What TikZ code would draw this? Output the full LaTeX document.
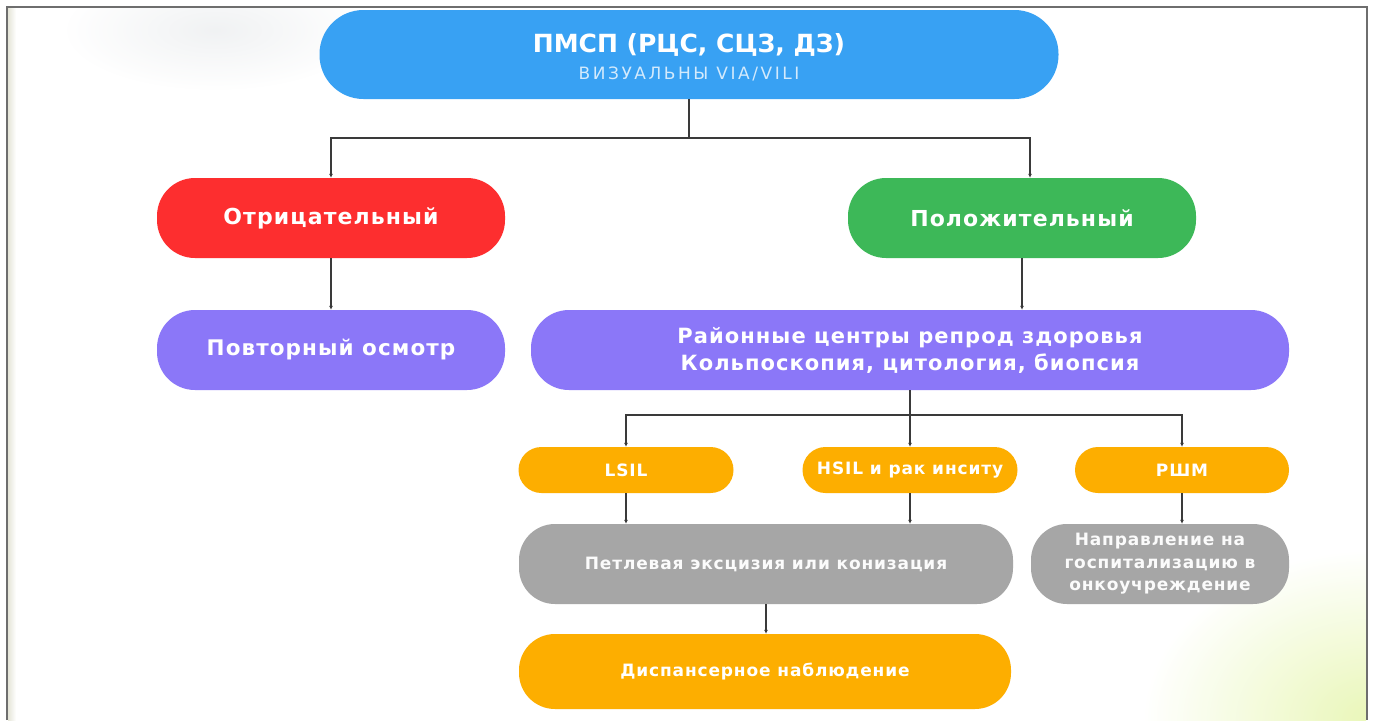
\documentclass[tikz,border=0pt]{standalone}
\usepackage{fontspec}
\setmainfont{DejaVu Sans}
\newfontfamily\widefont{DejaVu Sans}[LetterSpace=5]
\newfontfamily\subfont{DejaVu Sans}[LetterSpace=15]
\usetikzlibrary{arrows.meta}
\definecolor{cblue}{HTML}{38A1F3}
\definecolor{cred}{HTML}{FD2E2F}
\definecolor{cgreen}{HTML}{3DB858}
\definecolor{cpurple}{HTML}{8B77F8}
\definecolor{corange}{HTML}{FDAE00}
\definecolor{cgray}{HTML}{A6A6A6}
\definecolor{cline}{HTML}{3A3A3A}
\definecolor{cframe}{HTML}{6E6E6E}
\tikzset{
  pill/.style={rectangle, rounded corners=#1, inner sep=0pt, align=center, text=white},
  conn/.style={draw=cline, line width=1.5pt, -{Latex[length=4pt,width=4pt]}},
  plain/.style={draw=cline, line width=1.5pt},
}
\begin{document}
\begin{tikzpicture}[x=1pt,y=-1pt]
\useasboundingbox (0,0) rectangle (1373,720);
\fill[white] (0,0) rectangle (1373,720);
% soft background blobs
\begin{scope}
\clip (8,8) rectangle (1366,720);
\shade[inner color=cblue!15!gray!35, outer color=white, opacity=0.3] (215,30) ellipse (150 and 60);
\shade[inner color=cgreen!35!yellow!35!white, outer color=white, opacity=0.9] (1373,720) ellipse (230 and 170);
\shade[left color=yellow!20!gray!25, right color=white] (8,8) rectangle (16,720);
\end{scope}
% frame
\draw[cframe, line width=2pt] (7,720) -- (7,7) -- (1367,7) -- (1367,720);

% nodes
\node[pill=44pt, fill=cblue, minimum width=739pt, minimum height=89pt] (top) at (689,54.5) {};
\node[font=\bfseries\fontsize{25}{30}\selectfont, text=white] (t1) at (689,45) {ПМСП (РЦС, СЦЗ, ДЗ)};
\node[font=\subfont\fontsize{17}{20}\selectfont, text=white!78!cblue] (t2) at (689,74) {ВИЗУАЛЬНЫ VIA/VILI};

\node[pill=38pt, fill=cred, minimum width=348pt, minimum height=80pt, font=\widefont\bfseries\fontsize{22}{26}\selectfont] (neg) at (331,218) {Отрицательный};
\node[pill=38pt, fill=cgreen, minimum width=348pt, minimum height=80pt, font=\widefont\bfseries\fontsize{22}{26}\selectfont] (pos) at (1022,218) {Положительный};
\node[pill=38pt, fill=cpurple, minimum width=348pt, minimum height=80pt, font=\widefont\bfseries\fontsize{21.5}{26}\selectfont] (rep) at (331,350) {Повторный осмотр};
\node[pill=38pt, fill=cpurple, minimum width=758pt, minimum height=80pt, font=\widefont\bfseries\fontsize{21}{27}\selectfont] (rc) at (910,350) {Районные центры репрод здоровья\\Кольпоскопия, цитология, биопсия};

\node[pill=23pt, fill=corange, minimum width=215pt, minimum height=46pt, font=\widefont\bfseries\fontsize{17}{20}\selectfont] (lsil) at (626,470) {LSIL};
\node[pill=23pt, fill=corange, minimum width=215pt, minimum height=46pt, font=\widefont\bfseries\fontsize{17}{20}\selectfont] (hsil) at (910,470) {HSIL и рак инситу};
\node[pill=23pt, fill=corange, minimum width=214pt, minimum height=46pt, font=\widefont\bfseries\fontsize{17}{20}\selectfont] (rshm) at (1182,470) {РШМ};

\node[pill=36pt, fill=cgray, minimum width=494pt, minimum height=80pt, font=\widefont\bfseries\fontsize{17}{20}\selectfont, text=white!95!cgray] (loop) at (766,564) {Петлевая эксцизия или конизация};
\node[pill=36pt, fill=cgray, minimum width=258pt, minimum height=80pt, font=\widefont\bfseries\fontsize{17}{22.5}\selectfont, text=white!95!cgray] (hosp) at (1160,564) {Направление на\\госпитализацию в\\онкоучреждение};
\node[pill=36pt, fill=corange, minimum width=492pt, minimum height=75pt, font=\widefont\bfseries\fontsize{17}{21}\selectfont] (disp) at (765,671.5) {Диспансерное наблюдение};

% connectors
\coordinate (j1) at (top.south |- 0,138);
\coordinate (j2) at (hsil.north |- 0,415);
\draw[plain] (top.south) -- (j1);
\draw[conn] (j1) -| (neg.north);
\draw[conn] (j1) -| ([xshift=8pt]pos.north);
\draw[conn] (neg.south) -- (rep.north);
\draw[conn] (pos.south) -- (pos.south |- rc.north);
\draw[plain] (rc.south -| hsil.north) -- (j2);
\draw[conn] (j2) -| (lsil.north);
\draw[conn] (j2) -- (hsil.north);
\draw[conn] (j2) -| (rshm.north);
\draw[conn] (lsil.south) -- (lsil.south |- loop.north);
\draw[conn] (hsil.south) -- (hsil.south |- loop.north);
\draw[conn] (rshm.south) -- (rshm.south |- hosp.north);
\draw[conn] (loop.south) -- (loop.south |- disp.north);
\end{tikzpicture}
\end{document}
